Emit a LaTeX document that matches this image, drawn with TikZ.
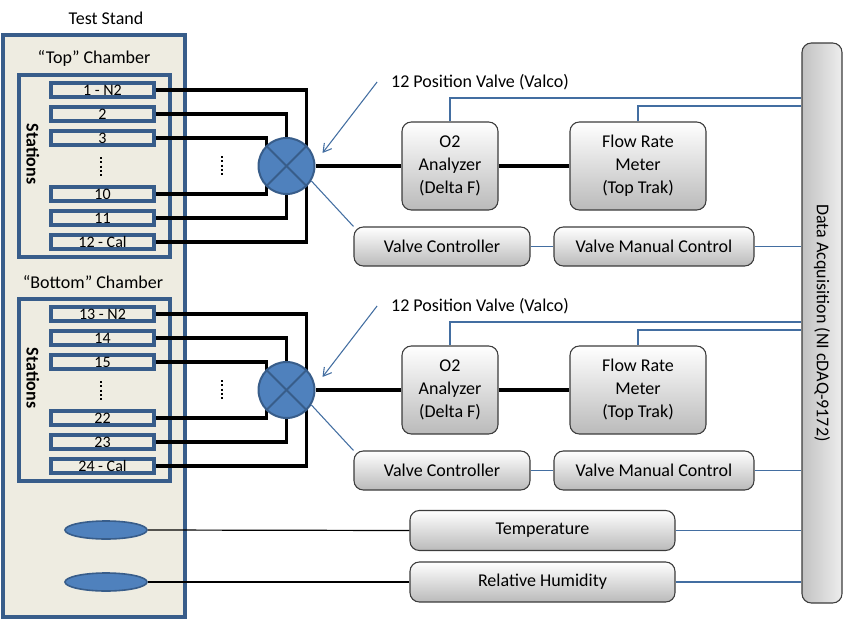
\documentclass[tikz,border=0pt]{standalone}
\usepackage{fontspec}
\setmainfont{Carlito}
\usepackage{tikz}
\usetikzlibrary{arrows.meta, positioning, shapes.geometric}
\definecolor{standfill}{RGB}{238,236,225}
\definecolor{standblue}{RGB}{56,93,138}
\definecolor{valveblue}{RGB}{79,129,189}
\definecolor{boxedge}{RGB}{60,60,60}

\begin{document}
\begin{tikzpicture}[
    x=0.75pt, y=-0.75pt,
    font=\fontsize{13.5}{17.25}\selectfont,
    frame/.style={draw=standblue, line width=2.3pt, fill=standfill, inner sep=0pt},
    station/.style={frame, minimum width=77.25pt, minimum height=10.5pt,
                    font=\fontsize{12}{12}\selectfont},
    valve/.style={circle, draw=standblue, line width=1.5pt, fill=valveblue,
                  minimum size=42pt, inner sep=0pt},
    device/.style={draw=boxedge, line width=0.8pt, rounded corners=7pt,
                   top color=white, bottom color=black!27, align=center, inner sep=0pt},
    sensor/.style={ellipse, draw=standblue, line width=1.2pt, fill=valveblue,
                   minimum width=61.5pt, minimum height=13.5pt, inner sep=0pt},
    pipe/.style={line width=2.6pt, black},
    signal/.style={line width=0.8pt, valveblue!85!black},
    wire/.style={line width=0.9pt, black},
    pointer/.style={signal, -{Straight Barb[length=6pt, width=7pt]}},
    ellip/.style={line width=1.6pt, dash pattern=on 1.6pt off 1.6pt}
]
    \useasboundingbox (0,0) rectangle (849,621);

    % test stand
    \node (standlbl) at (106,18) {Test Stand};
    \node[frame, minimum width=136.5pt, minimum height=436.5pt] (stand) at (94,326) {};
    \node (toplbl) at (94,58) {``Top'' Chamber};
    \node (botlbl) at (93,282) {``Bottom'' Chamber};

    % top chamber
    \node[frame, minimum width=113.25pt, minimum height=136.5pt] (topbox) at (94.5,166) {};
    \node[rotate=-90, font=\fontsize{13.5}{14}\selectfont\bfseries] (topst) at (33,154) {Stations};
    \node[station] (st1)  at (102.5,90)  {1 - N2};
    \node[station] (st2)  at (102.5,114) {2};
    \node[station] (st3)  at (102.5,138) {3};
    \node[station] (st10) at (102.5,194) {10};
    \node[station] (st11) at (102.5,218) {11};
    \node[station] (st12) at (102.5,242) {12 - Cal};
    \draw[ellip] (101,157) -- (101,177);
    \draw[ellip] (222,156) -- (222,176);

    \coordinate (v1) at (286.5,166);
    \draw[pipe] (st1.east) -| ([xshift=15pt]v1) |- (st12.east);
    \draw[pipe] (st2.east) -| (v1) |- (st11.east);
    \draw[pipe] (st3.east) -| ([xshift=-15pt]v1) |- (st10.east);
    \node[valve] (valve1) at (v1) {};
    \draw[standblue, line width=1.5pt] (valve1.north west) -- (valve1.south east);
    \draw[standblue, line width=1.5pt] (valve1.north east) -- (valve1.south west);

    \node[device, minimum width=72pt, minimum height=66pt] (o2a) at (450,166) {O2\\Analyzer\\(Delta F)};
    \node[device, minimum width=102pt, minimum height=66pt] (flowa) at (638,166) {Flow Rate\\Meter\\(Top Trak)};
    \node[device, minimum width=132pt, minimum height=29.25pt] (vca) at (442,246.5) {Valve Controller};
    \node[device, minimum width=150pt, minimum height=29.25pt] (vmca) at (654,246.5) {Valve Manual Control};
    \node (lbla) at (480,82) {12 Position Valve (Valco)};

    % bottom chamber
    \node[frame, minimum width=113.25pt, minimum height=136.5pt] (botbox) at (94.5,390) {};
    \node[rotate=-90, font=\fontsize{13.5}{14}\selectfont\bfseries] (botst) at (33,378) {Stations};
    \node[station] (st13) at (102.5,314) {13 - N2};
    \node[station] (st14) at (102.5,338) {14};
    \node[station] (st15) at (102.5,362) {15};
    \node[station] (st22) at (102.5,418) {22};
    \node[station] (st23) at (102.5,442) {23};
    \node[station] (st24) at (102.5,466) {24 - Cal};
    \draw[ellip] (101,381) -- (101,401);
    \draw[ellip] (222,380) -- (222,400);

    \coordinate (v2) at (286.5,390);
    \draw[pipe] (st13.east) -| ([xshift=15pt]v2) |- (st24.east);
    \draw[pipe] (st14.east) -| (v2) |- (st23.east);
    \draw[pipe] (st15.east) -| ([xshift=-15pt]v2) |- (st22.east);
    \node[valve] (valve2) at (v2) {};
    \draw[standblue, line width=1.5pt] (valve2.north west) -- (valve2.south east);
    \draw[standblue, line width=1.5pt] (valve2.north east) -- (valve2.south west);

    \node[device, minimum width=72pt, minimum height=66pt] (o2b) at (450,390) {O2\\Analyzer\\(Delta F)};
    \node[device, minimum width=102pt, minimum height=66pt] (flowb) at (638,390) {Flow Rate\\Meter\\(Top Trak)};
    \node[device, minimum width=132pt, minimum height=29.25pt] (vcb) at (442,470.5) {Valve Controller};
    \node[device, minimum width=150pt, minimum height=29.25pt] (vmcb) at (654,470.5) {Valve Manual Control};
    \node (lblb) at (480,306) {12 Position Valve (Valco)};

    % sensors
    \node[sensor] (tsens) at (106,530) {};
    \node[sensor] (hsens) at (106,582) {};
    \node[device, minimum width=198.75pt, minimum height=30pt] (temp) at (542.5,530.5) {Temperature};
    \node[device, minimum width=198.75pt, minimum height=30pt] (hum) at (542.5,582) {Relative Humidity};

    % data acquisition
    \node[draw=boxedge, line width=0.8pt, rounded corners=7pt, left color=black!24,
          right color=black!7, minimum width=30pt, minimum height=420pt] (daq) at (822,323) {};
    \node[rotate=-90] (daqlbl) at (daq.center) {Data Acquisition (NI cDAQ-9172)};

    \coordinate (tapa1) at (daq.west |- 0,98);
    \coordinate (tapa2) at (daq.west |- 0,106);
    \coordinate (tapb1) at (daq.west |- 0,322);
    \coordinate (tapb2) at (daq.west |- 0,330);

    % connections
    \draw[pipe] (valve1.east) -- (o2a.west);
    \draw[pipe] (o2a.east) -- (flowa.west);
    \draw[pipe] (valve2.east) -- (o2b.west);
    \draw[pipe] (o2b.east) -- (flowb.west);

    \draw[signal] (o2a.north) |- (tapa1);
    \draw[signal] (flowa.north) |- (tapa2);
    \draw[signal] (vca.east) -- (vmca.west);
    \draw[signal] (vmca.east) -- (daq.west |- vmca.east);
    \draw[signal] (valve1.-31) -- (vca.north west);
    \draw[pointer] ([xshift=-7pt]lbla.west) -- ([xshift=27pt, yshift=9.75pt]v1);

    \draw[signal] (o2b.north) |- (tapb1);
    \draw[signal] (flowb.north) |- (tapb2);
    \draw[signal] (vcb.east) -- (vmcb.west);
    \draw[signal] (vmcb.east) -- (daq.west |- vmcb.east);
    \draw[signal] (valve2.-31) -- (vcb.north west);
    \draw[pointer] ([xshift=-7pt]lblb.west) -- ([xshift=27pt, yshift=9.75pt]v2);

    \draw[wire] (tsens.east) -- (temp.west);
    \draw[wire] (hsens.east) -- (hum.west);
    \draw[signal] (temp.east) -- (daq.west |- temp.east);
    \draw[signal] (hum.east) -- (daq.west |- hum.east);
\end{tikzpicture}
\end{document}
